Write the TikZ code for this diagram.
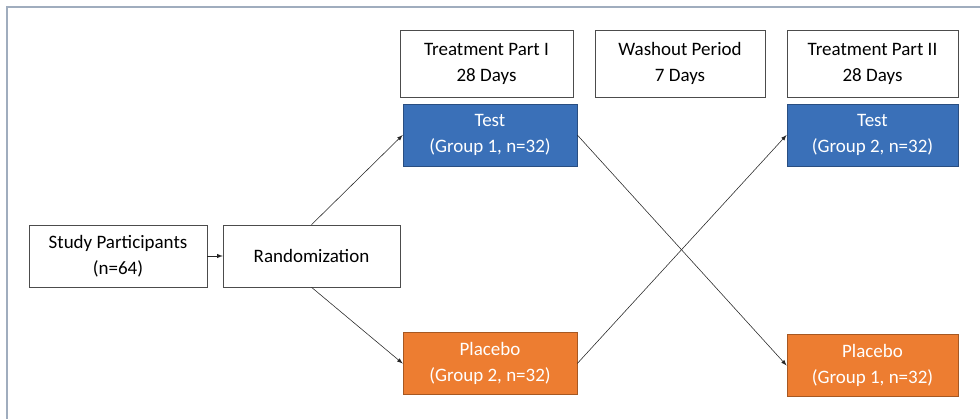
\documentclass[tikz,border=0pt]{standalone}
\usepackage{fontspec}
\setmainfont{Carlito}
\usetikzlibrary{positioning,arrows}
\definecolor{testblue}{RGB}{58,112,184}
\definecolor{placorange}{RGB}{237,125,49}
\definecolor{framegray}{RGB}{160,173,190}
\tikzset{
  flowbox/.style={draw=black!70, fill=white, thin, align=center,
                  font=\fontsize{13.5}{18.5}\selectfont, inner sep=2pt},
  hdrbox/.style={flowbox, minimum height=1.675cm},
  grpbox/.style={flowbox, text=white, minimum height=1.55cm},
  grptest/.style={grpbox, fill=testblue, draw=testblue!70!black},
  grpplac/.style={grpbox, fill=placorange, draw=placorange!70!black},
  flowarr/.style={->, >=latex, draw=black!85, thin},
}
\newcommand{\ColA}{490}
\newcommand{\ColB}{680}
\newcommand{\ColC}{872.5}

\begin{document}
\begin{tikzpicture}[x=0.025cm, y=-0.025cm]
    \useasboundingbox (0,0) rectangle (980,419);
    % outer frame
    \draw[framegray, line width=1.4pt] (7,419) -- (7,7) -- (980,7);

    \node[flowbox, minimum width=4.45cm, minimum height=1.55cm] (study) at (118,256) {Study Participants\\(n=64)};
    \node[flowbox, minimum width=4.42cm, minimum height=1.55cm] (rand) at (311.5,256) {Randomization};

    \node[hdrbox, minimum width=4.32cm] (hdrA) at (486.5,63.5) {Treatment Part I\\28 Days};
    \node[hdrbox, minimum width=4.25cm] (hdrB) at (\ColB,63.5) {Washout Period\\7 Days};
    \node[hdrbox, minimum width=4.28cm] (hdrC) at (\ColC,63.5) {Treatment Part II\\28 Days};

    \node[grptest, minimum width=4.35cm] (testA) at (\ColA,135) {Test\\(Group 1, n=32)};
    \node[grpplac, minimum width=4.35cm] (placA) at (\ColA,363.5) {Placebo\\(Group 2, n=32)};
    \node[grptest, minimum width=4.28cm] (testB) at (\ColC,135) {Test\\(Group 2, n=32)};
    \node[grpplac, minimum width=4.28cm] (placB) at (\ColC,365.5) {Placebo\\(Group 1, n=32)};

    \draw[flowarr] (study) -- (rand);
    \draw[flowarr] (rand.north) -- (testA.west);
    \draw[flowarr] (rand.south) -- (placA.west);
    \draw[flowarr] (testA.east) -- (placB.west);
    \draw[flowarr] (placA.east) -- (testB.west);

\end{tikzpicture}
\end{document}
